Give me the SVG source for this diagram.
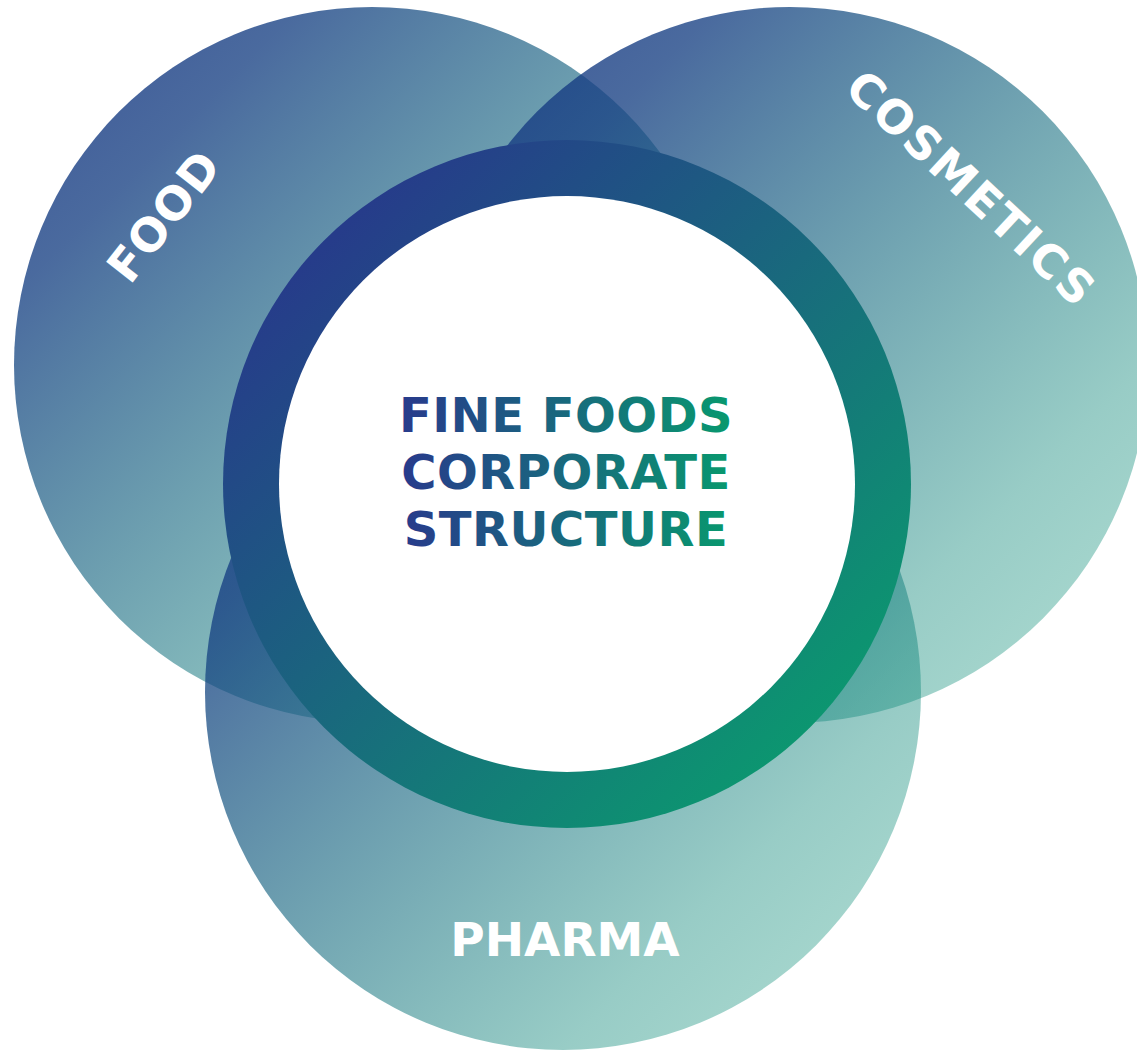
<svg xmlns="http://www.w3.org/2000/svg" width="1137" height="1051" viewBox="0 0 1137 1051">
  <defs>
    <!-- shared diagonal fill for the three sector circles: deep blue and fairly solid at the
         top-left, fading to a see-through teal at the bottom-right -->
    <linearGradient id="sectorFill" x1="0" y1="0" x2="1" y2="1">
      <stop offset="0" stop-color="#173383" stop-opacity="0.85"/>
      <stop offset="0.2" stop-color="#174083" stop-opacity="0.78"/>
      <stop offset="0.45" stop-color="#0a5d7a" stop-opacity="0.6"/>
      <stop offset="0.75" stop-color="#0a8677" stop-opacity="0.42"/>
      <stop offset="1" stop-color="#24a385" stop-opacity="0.36"/>
    </linearGradient>
    <!-- blue-to-green ring around the title -->
    <linearGradient id="ringFill" gradientUnits="userSpaceOnUse" x1="330" y1="240" x2="810" y2="730">
      <stop offset="0" stop-color="#263c8a"/>
      <stop offset="1" stop-color="#0c9670"/>
    </linearGradient>
    <!-- horizontal gradient for the title lettering -->
    <linearGradient id="titleFill" gradientUnits="userSpaceOnUse" x1="400" y1="0" x2="733" y2="0">
      <stop offset="0" stop-color="#283a8c"/>
      <stop offset="1" stop-color="#08996e"/>
    </linearGradient>
  </defs>
  <style>
    .sector { fill: url(#sectorFill); }
    .label { font-family: "DejaVu Sans", Verdana, sans-serif; font-weight: bold; fill: #ffffff; text-anchor: middle; }
    .title { font-family: "DejaVu Sans", Verdana, sans-serif; font-weight: bold; font-size: 48px; letter-spacing: 0.5px; fill: url(#titleFill); text-anchor: middle; }
  </style>

  <rect width="1137" height="1051" fill="#ffffff"/>

  <g id="node-food">
    <circle class="sector" cx="372" cy="365" r="358"/>
  </g>
  <g id="node-cosmetics">
    <circle class="sector" cx="790" cy="365" r="358"/>
  </g>
  <g id="node-pharma">
    <circle class="sector" cx="563" cy="692" r="358"/>
  </g>

  <g id="node-center">
    <circle cx="567" cy="484" r="344" fill="url(#ringFill)"/>
    <circle cx="567" cy="484" r="288" fill="#ffffff"/>
    <text class="title" x="566" y="432">FINE FOODS</text>
    <text class="title" x="566" y="489">CORPORATE</text>
    <text class="title" x="566" y="546">STRUCTURE</text>
  </g>

  <!-- sector labels -->
  <g id="label-food" transform="translate(164,216) rotate(-52)">
    <text class="label" x="0" y="16" font-size="46" letter-spacing="1">FOOD</text>
  </g>
  <g id="label-cosmetics" transform="translate(972,188) rotate(43)">
    <text class="label" x="0" y="17" font-size="46" letter-spacing="2.5">COSMETICS</text>
  </g>
  <g id="label-pharma">
    <text class="label" x="565" y="956" font-size="47">PHARMA</text>
  </g>
</svg>
